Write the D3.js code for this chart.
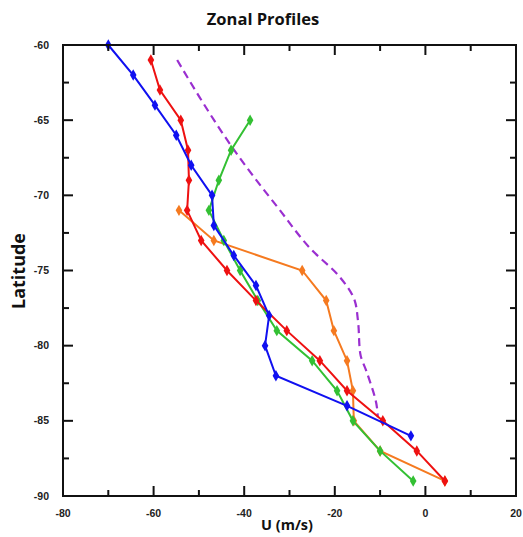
<!DOCTYPE html>
<html>
<head>
<meta charset="utf-8">
<script src="https://cdn.jsdelivr.net/npm/d3@7"></script>
<style>
  html, body { margin: 0; padding: 0; background: #fff; }
  svg { display: block; }
</style>
</head>
<body>
<svg id="chart" width="523" height="537"></svg>
<script>
// ---- data ----
const blueLat = [-60, -62, -64, -66, -68, -70, -72, -74, -76, -78, -80, -82, -84, -86];
const blueU   = [-70, -64.5, -59.7, -55, -51.7, -47.1, -46.7, -42.3, -37.4, -34.5, -35.4, -33, -17.3, -3.2];

const redLat = [-61, -63, -65, -67, -69, -71, -73, -75, -77, -79, -81, -83, -85, -87, -89];
const redU   = [-60.6, -58.6, -54, -52.4, -52.2, -52.6, -49.5, -43.8, -37.4, -30.6, -23.3, -17.3, -9.4, -1.9, 4.3];

const greenLat = [-65, -67, -69, -71, -73, -75, -77, -79, -81, -83, -85, -87, -89];
const greenU   = [-38.7, -42.9, -45.6, -47.8, -44.5, -40.9, -37, -32.8, -25, -19.5, -16, -10, -2.7];

const orangeLat = [-71, -73, -75, -77, -79, -81, -83, -85, -87, -89];
const orangeU   = [-54.4, -46.7, -27.2, -21.9, -20.2, -17.3, -16, -15.8, -10, 4.3];

const purpleLat = [-61, -63.5, -66.3, -68.8, -70.8, -73.6, -75.4, -77, -78.3, -80.5, -81.8, -84.1, -84.75];
const purpleU   = [-54.8, -49.8, -43.8, -37.8, -32.6, -25.2, -19, -15.6, -14.9, -14.4, -12.9, -10.7, -10.5];

const xTicks = [-80, -60, -40, -20, 0, 20];
const yTicks = [-60, -65, -70, -75, -80, -85, -90];

const title = "Zonal Profiles";
const xTitle = "U (m/s)";
const yTitle = "Latitude";

// ---- layout ----
const svg = d3.select("#chart");
const L = 63, R = 516, T = 45, B = 496;
const x = d3.scaleLinear().domain([-80, 20]).range([L, R]);
const y = d3.scaleLinear().domain([-60, -90]).range([T, B]);

const series = [
  { lat: blueLat, u: blueU, color: "#1010f0" },
  { lat: redLat, u: redU, color: "#ee1111" },
  { lat: orangeLat, u: orangeU, color: "#f57a20" },
  { lat: greenLat, u: greenU, color: "#33c033" },
];

// purple dashed
const purple = purpleLat.map((d, i) => ({ lat: d, u: purpleU[i] }));
svg.append("path")
  .datum(purple)
  .attr("fill", "none")
  .attr("stroke", "#9a2fd0")
  .attr("stroke-width", 2.2)
  .attr("stroke-dasharray", "8,5")
  .attr("d", d3.line().x(d => x(d.u)).y(d => y(d.lat)).curve(d3.curveMonotoneY));

const order = [2, 3, 1, 0];
order.forEach(k => {
  const s = series[k];
  const pts = s.lat.map((d, i) => ({ lat: d, u: s.u[i] }));
  svg.append("path")
    .datum(pts)
    .attr("fill", "none")
    .attr("stroke", s.color)
    .attr("stroke-width", 2)
    .attr("d", d3.line().x(d => x(d.u)).y(d => y(d.lat)));
  svg.selectAll(null)
    .data(pts)
    .enter()
    .append("path")
    .attr("transform", d => `translate(${x(d.u)},${y(d.lat)})`)
    .attr("d", d3.symbol().type(d3.symbolDiamond).size(38))
    .attr("fill", s.color);
});

// frame
svg.append("rect")
  .attr("x", L).attr("y", T)
  .attr("width", R - L).attr("height", B - T)
  .attr("fill", "none").attr("stroke", "#111").attr("stroke-width", 2);

// ticks (inward)
const xMinor = d3.range(-70, 20, 20);
const yMinor = d3.range(-62.5, -90, -5);
const tickG = svg.append("g").attr("stroke", "#111").attr("stroke-width", 2);
xTicks.forEach(v => {
  tickG.append("line").attr("x1", x(v)).attr("x2", x(v)).attr("y1", B).attr("y2", B - 10);
  tickG.append("line").attr("x1", x(v)).attr("x2", x(v)).attr("y1", T).attr("y2", T + 10);
});
xMinor.forEach(v => {
  tickG.append("line").attr("x1", x(v)).attr("x2", x(v)).attr("y1", B).attr("y2", B - 6);
  tickG.append("line").attr("x1", x(v)).attr("x2", x(v)).attr("y1", T).attr("y2", T + 6);
});
yTicks.forEach(v => {
  tickG.append("line").attr("x1", L).attr("x2", L + 10).attr("y1", y(v)).attr("y2", y(v));
  tickG.append("line").attr("x1", R).attr("x2", R - 10).attr("y1", y(v)).attr("y2", y(v));
});
yMinor.forEach(v => {
  tickG.append("line").attr("x1", L).attr("x2", L + 6).attr("y1", y(v)).attr("y2", y(v));
  tickG.append("line").attr("x1", R).attr("x2", R - 6).attr("y1", y(v)).attr("y2", y(v));
});

// tick labels
const tickFont = "'Liberation Sans Narrow', 'Liberation Sans', Arial, sans-serif";
svg.append("g").selectAll("text").data(xTicks).enter().append("text")
  .attr("x", d => x(d)).attr("y", 517)
  .attr("text-anchor", "middle")
  .attr("font-family", tickFont).attr("font-weight", "bold").attr("font-size", 10.5)
  .attr("fill", "#222")
  .text(d => d);
svg.append("g").selectAll("text").data(yTicks).enter().append("text")
  .attr("x", 49).attr("y", d => y(d) + 3.5)
  .attr("text-anchor", "end")
  .attr("font-family", tickFont).attr("font-weight", "bold").attr("font-size", 10.5)
  .attr("fill", "#222")
  .text(d => d);

// titles
const titleFont = "'Open Sans', 'Noto Sans', sans-serif";
svg.append("text")
  .attr("x", 263).attr("y", 25)
  .attr("text-anchor", "middle")
  .attr("font-family", titleFont).attr("font-weight", "bold").attr("font-size", 16.5)
  .attr("fill", "#111")
  .text(title);
svg.append("text")
  .attr("x", 287).attr("y", 530)
  .attr("text-anchor", "middle")
  .attr("font-family", titleFont).attr("font-weight", "bold").attr("font-size", 14.5)
  .attr("fill", "#111")
  .text(xTitle);
svg.append("text")
  .attr("transform", "translate(25,271) rotate(-90)")
  .attr("text-anchor", "middle")
  .attr("font-family", titleFont).attr("font-weight", "bold").attr("font-size", 18)
  .attr("fill", "#111")
  .text(yTitle);
</script>
</body>
</html>
